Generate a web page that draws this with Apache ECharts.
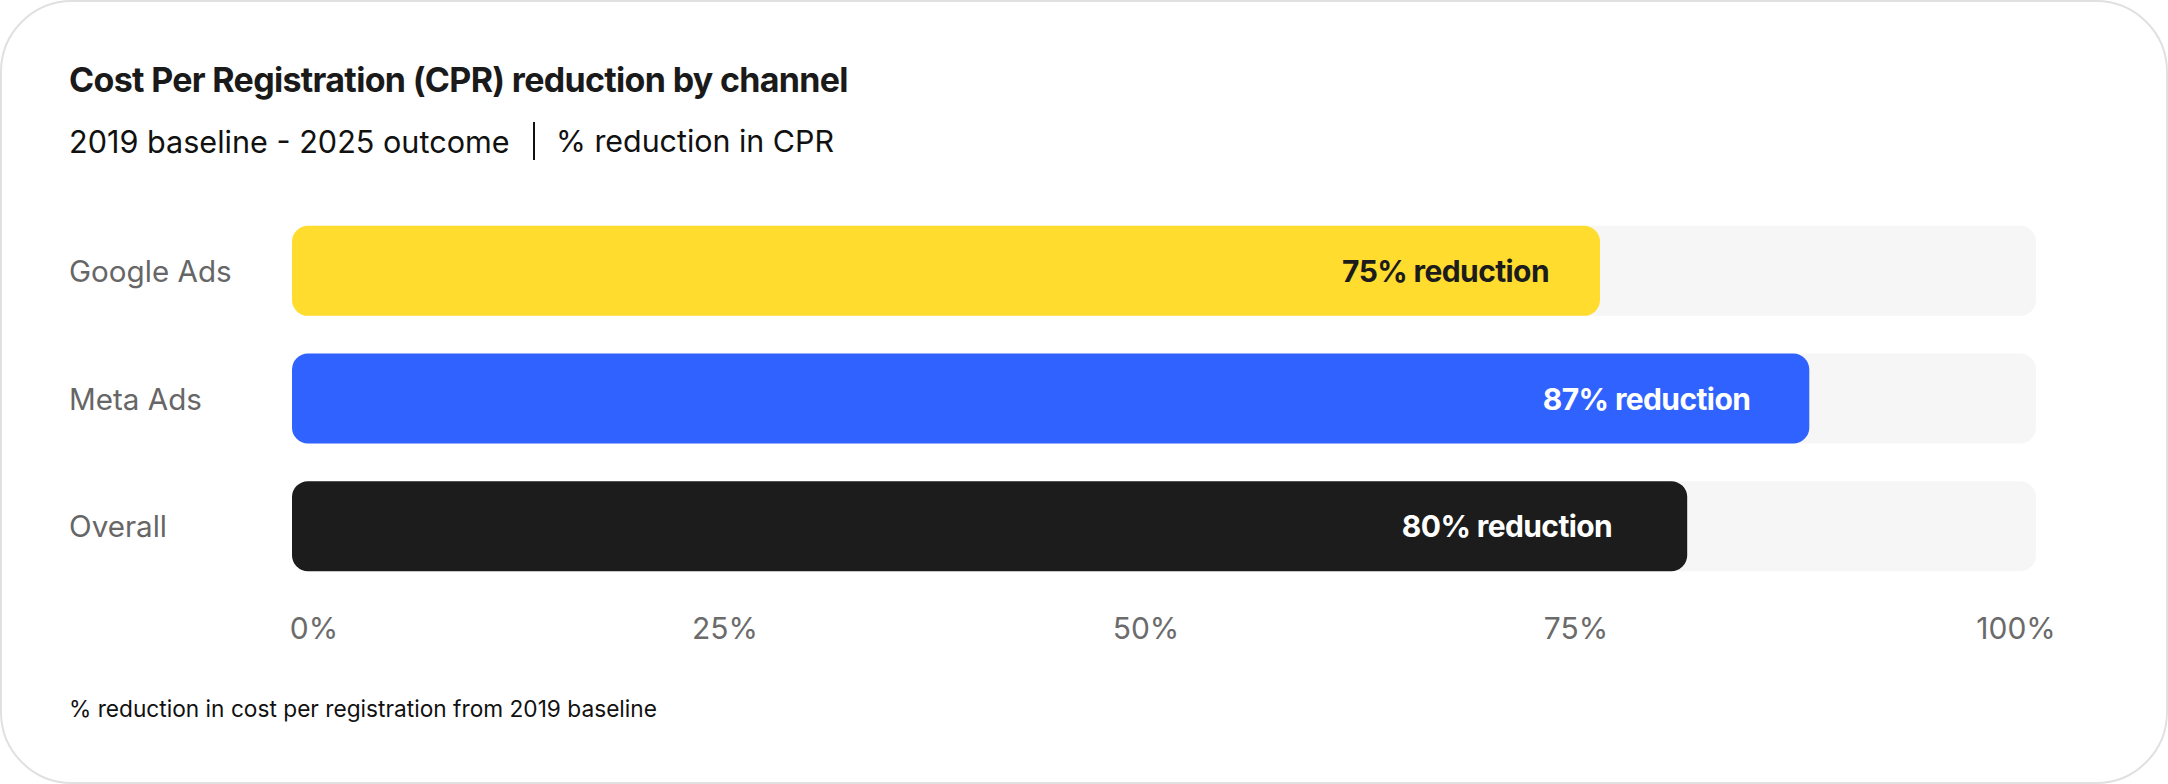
<!DOCTYPE html>
<html>
<head>
<meta charset="utf-8">
<script src="https://cdn.jsdelivr.net/npm/echarts@6/dist/echarts.min.js"></script>
<style>
  html, body { margin: 0; padding: 0; background: #fff; }
  .card {
    width: 2168px;
    height: 784px;
    box-sizing: border-box;
    border: 2px solid #e0e0e0;
    border-radius: 72px;
    background: #fff;
    overflow: hidden;
  }
  #chart { width: 2164px; height: 780px; }
  /* bold texts are set a touch tighter */
  #chart text[style*="700"], #chart tspan[style*="700"],
  #chart text[style*="bold"], #chart tspan[style*="bold"] {
    letter-spacing: -0.02em;
  }
</style>
</head>
<body>
<div class="card"><div id="chart"></div></div>
<script>
const channels = ["Google Ads", "Meta Ads", "Overall"];
const reductions = [75, 87, 80];
const barColors = ["#ffdc2e", "#2f62ff", "#1c1c1c"];
const labelColors = ["#1c1c1c", "#ffffff", "#ffffff"];
const tickValues = [0, 25, 50, 75, 100];
const tickLabels = ["0%", "25%", "50%", "75%", "100%"];

const FONT = "Inter, 'Noto Sans', sans-serif";

// how far each value label sits in from the end of its bar
const labelInset = [51, 59, 75];

// ticks are spread like a space-between row, so nudge each label a little
const tickShift = [22, -3, -18, -24, -20];
const tickRich = {};
tickValues.forEach((v, i) => {
  const s = tickShift[i];
  tickRich["t" + i] = {
    fontFamily: FONT,
    fontSize: 30,
    color: "#6b6b6b",
    lineHeight: 36,
    padding: s > 0 ? [0, 0, 0, 2 * s] : [0, -2 * s, 0, 0],
  };
});

const chart = echarts.init(document.getElementById("chart"), null, { renderer: "svg" });

const option = {
  animation: false,
  textStyle: { fontFamily: FONT },
  grid: {
    left: 290,
    right: 130,
    top: 205,
    bottom: 192,
    containLabel: false,
  },
  xAxis: {
    type: "value",
    min: 0,
    max: 100,
    interval: 25,
    splitLine: { show: false },
    axisLine: { show: false },
    axisTick: { show: false },
    axisLabel: {
      margin: 20,
      formatter: (value) => {
        const i = tickValues.indexOf(value);
        return `{t${i}|${tickLabels[i]}}`;
      },
      rich: tickRich,
    },
  },
  yAxis: {
    type: "category",
    data: channels,
    inverse: true,
    axisLine: { show: false },
    axisTick: { show: false },
    axisLabel: {
      align: "left",
      margin: 223,
      color: "#666666",
      fontSize: 29.6,
      fontFamily: FONT,
    },
  },
  graphic: [
    {
      type: "text",
      x: 67,
      y: 77,
      style: {
        text: "Cost Per Registration (CPR) reduction by channel",
        font: `700 34px ${FONT}`,
        fill: "#1a1a1a",
        verticalAlign: "middle",
      },
    },
    {
      type: "text",
      x: 67,
      y: 139,
      style: {
        text: "2019 baseline - 2025 outcome",
        font: `400 30.6px ${FONT}`,
        fill: "#111111",
        verticalAlign: "middle",
      },
    },
    {
      type: "rect",
      left: 531,
      top: 120,
      shape: { width: 2, height: 38 },
      style: { fill: "#111111" },
    },
    {
      type: "text",
      x: 554,
      y: 139,
      style: {
        text: "% reduction in CPR",
        font: `400 30.4px ${FONT}`,
        fill: "#111111",
        verticalAlign: "middle",
      },
    },
    {
      type: "text",
      x: 67,
      y: 706,
      style: {
        text: "% reduction in cost per registration from 2019 baseline",
        font: `400 22.7px ${FONT}`,
        fill: "#111111",
        verticalAlign: "middle",
      },
    },
  ],
  series: [
    {
      type: "bar",
      barWidth: 90,
      showBackground: true,
      backgroundStyle: {
        color: "#f6f6f6",
        borderRadius: 16,
      },
      data: reductions.map((v, i) => ({
        value: v,
        itemStyle: { color: barColors[i], borderRadius: 16 },
        label: { color: labelColors[i], distance: labelInset[i] },
      })),
      label: {
        show: true,
        position: "insideRight",
        formatter: "{c}% reduction",
        fontFamily: FONT,
        fontSize: 30,
        fontWeight: 700,
      },
    },
  ],
};

chart.setOption(option);
</script>
</body>
</html>
